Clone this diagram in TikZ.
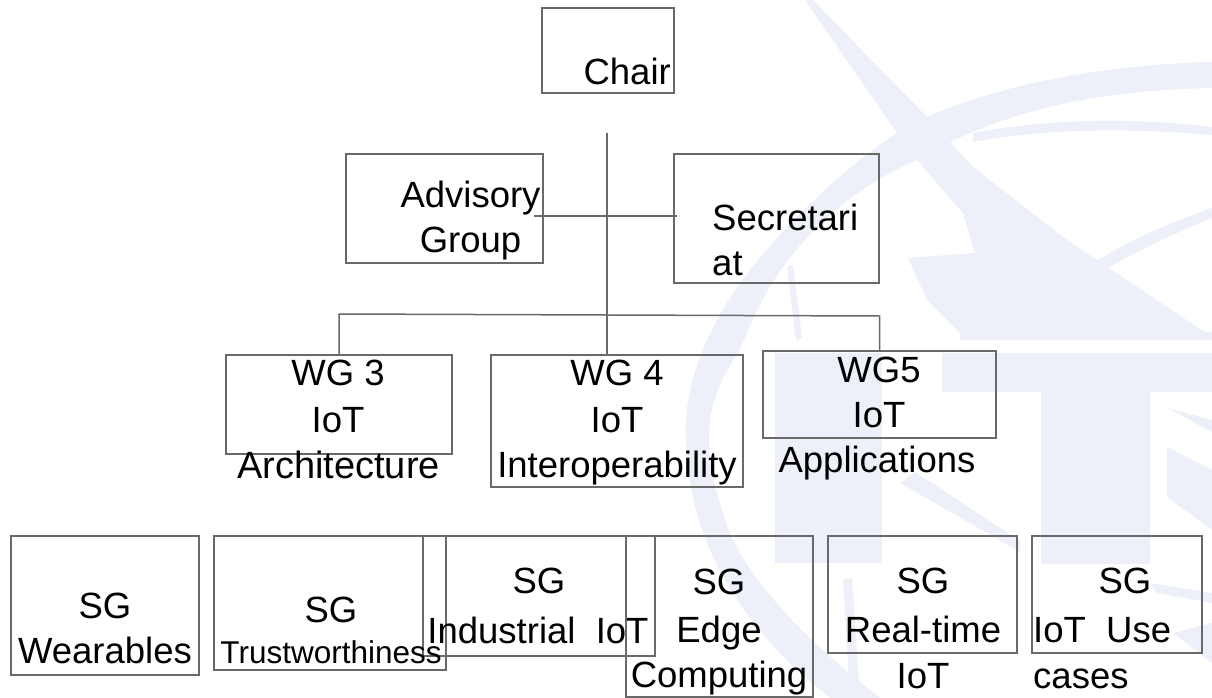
\documentclass[tikz,border=0pt]{standalone}
\usepackage{fontspec}
\setmainfont{Liberation Sans}
\definecolor{wmark}{HTML}{EDF0F8}
\definecolor{boxgray}{HTML}{696969}
\tikzset{
	boxnode/.style={draw=boxgray, line width=1.5pt, inner sep=0pt},
	lbl/.style={inner sep=0pt, text=black, font=\fontsize{36.5}{36.5}\selectfont},
	lblwide/.style={inner sep=0pt, text=black, font=\fontsize{38}{38}\selectfont},
	lblsmall/.style={inner sep=0pt, text=black, font=\fontsize{31.5}{31.5}\selectfont},
	conn/.style={draw=boxgray, line width=1.5pt}
}
\begin{document}
\begin{tikzpicture}[x=1pt,y=-1pt]
	\useasboundingbox (0,0) rectangle (1212,698);
	\fill [white] (0,0) rectangle (1212,698);
	\fill [wmark] (775,353) rectangle (882,563);
	\fill [wmark] (942,353) rectangle (1212,392);
	\fill [wmark] (1041,392) rectangle (1150,564);
	\fill [wmark] (805,0) -- (813,0) -- (927,117) -- (973,167) -- (1067,240) -- (1212,337) -- (967,340) -- (927,300) -- (908,258) -- (975,253) -- (963,213) -- (917,160) -- (897,133) -- cycle;
	\fill [wmark] (960,340) rectangle (1212,332);
	\fill [wmark] (1212,62) .. controls (1100,65) and (1000,85) .. (927,117) -- (897,133) .. controls (840,170) and (775,235) .. (740,283) .. controls (700,340) and (680,400) .. (687,450) .. controls (690,530) and (730,620) .. (830,698) -- (880,698) .. controls (780,620) and (735,560) .. (722,510) .. controls (700,440) and (705,400) .. (740,350) .. controls (755,310) and (770,285) .. (783,267) .. controls (820,215) and (870,180) .. (917,160) .. controls (1000,110) and (1100,90) .. (1212,88) -- cycle;
	\fill [wmark] (973,133) .. controls (1050,118) and (1140,118) .. (1212,127) -- (1212,135) .. controls (1130,128) and (1050,128) .. (973,142) -- cycle;
	\fill [wmark] (1090,265) .. controls (1130,240) and (1170,222) .. (1212,208) -- (1212,218) .. controls (1170,235) and (1140,250) .. (1100,272) -- cycle;
	\fill [wmark] (787,267) -- (793,265) -- (802,338) -- (796,340) -- cycle;
	\fill [wmark] (1167,408) -- (1212,420) -- (1212,432) -- cycle;
	\fill [wmark] (1167,447) -- (1212,470) -- (1212,530) -- (1167,497) -- cycle;
	\fill [wmark] (900,483) -- (915,472) -- (1020,541) -- (1020,552) -- cycle;
	\fill [wmark] (1150,583) -- (1212,593) -- (1212,603) -- (1157,593) -- cycle;
	\fill [wmark] (1212,623) -- (1173,633) -- (1212,663) -- cycle;
	\fill [wmark] (843,580) -- (852,578) -- (860,698) -- (850,698) -- cycle;
	\node [boxnode, minimum width=132pt, minimum height=85pt] (chair) at (608,50.5) {};
	\node [boxnode, minimum width=197pt, minimum height=109pt] (advisory) at (444.5,208.5) {};
	\node [boxnode, minimum width=205pt, minimum height=129pt] (secretariat) at (776.5,218.5) {};
	\node [boxnode, minimum width=226pt, minimum height=99pt] (wgthree) at (339,404.5) {};
	\node [boxnode, minimum width=252pt, minimum height=132pt] (wgfour) at (617,421) {};
	\node [boxnode, minimum width=233pt, minimum height=87pt] (wgfive) at (879.5,394.5) {};
	\node [boxnode, minimum width=188pt, minimum height=139pt] (wearables) at (105,605.5) {};
	\node [boxnode, minimum width=232pt, minimum height=134pt] (trust) at (330,603) {};
	\node [boxnode, minimum width=232pt, minimum height=120pt] (industrial) at (539,596) {};
	\node [boxnode, minimum width=187pt, minimum height=161pt] (edge) at (719.5,616.5) {};
	\node [boxnode, minimum width=189pt, minimum height=117pt] (realtime) at (922.5,594.5) {};
	\node [boxnode, minimum width=170pt, minimum height=117pt] (usecases) at (1117,594.5) {};
	\coordinate (trunktop) at (607,133);
	\coordinate (trunkbottom) at (607,355);
	\coordinate (sideleft) at (534,216);
	\coordinate (sideright) at (677,216);
	\coordinate (treeleft) at (339,314);
	\coordinate (treeright) at (879.5,316);
	\draw [conn] (trunktop) -- (trunkbottom);
	\draw [conn] (sideleft) -- (sideright);
	\draw [conn] (wgthree.north) -- (treeleft) -- (treeright) -- (wgfive.north);
	\node [lbl, anchor=base east] (chairtext) at (671,85) {Chair};
	\node [lbl, anchor=base] (advisorytext) at (470.5,207) {Advisory};
	\node [lbl, anchor=base] (grouptext) at (470.5,252) {Group};
	\node [lbl, anchor=base west] (secretaritext) at (712,230) {Secretari};
	\node [lbl, anchor=base west] (attext) at (712,275) {at};
	\node [lbl, anchor=base] (wgthreetext) at (338,385) {WG 3};
	\node [lbl, anchor=base] (iotthree) at (338,432) {IoT};
	\node [lblwide, anchor=base] (architecture) at (338.5,478) {Architecture};
	\node [lbl, anchor=base] (wgfourtext) at (617,385) {WG 4};
	\node [lbl, anchor=base] (iotfour) at (617,432) {IoT};
	\node [lbl, anchor=base] (interoperability) at (617,477) {Interoperability};
	\node [lbl, anchor=base] (wgfivetext) at (879,382) {WG5};
	\node [lbl, anchor=base] (iotfive) at (879,427) {IoT};
	\node [lbl, anchor=base] (applications) at (877,472) {Applications};
	\node [lbl, anchor=base] (sgwearables) at (105,618) {SG};
	\node [lbl, anchor=base] (wearablestext) at (105,663) {Wearables};
	\node [lbl, anchor=base] (sgtrust) at (331,622) {SG};
	\node [lblsmall, anchor=base] (trusttext) at (331,663) {Trustworthiness};
	\node [lbl, anchor=base] (sgindustrial) at (539,593) {SG};
	\node [lbl, anchor=base] (industrialtext) at (538,643) {Industrial~~IoT};
	\node [lbl, anchor=base] (sgedge) at (719,594) {SG};
	\node [lbl, anchor=base] (edgetext) at (719,642) {Edge};
	\node [lbl, anchor=base] (computing) at (719,687) {Computing};
	\node [lbl, anchor=base] (sgrealtime) at (923,593) {SG};
	\node [lbl, anchor=base] (realtimetext) at (923,642) {Real-time};
	\node [lbl, anchor=base] (iotrealtime) at (923,688) {IoT};
	\node [lbl, anchor=base] (sgusecases) at (1125,593) {SG};
	\node [lbl, anchor=base west] (iotuse) at (1033,642) {IoT~~Use};
	\node [lbl, anchor=base west] (cases) at (1033,688) {cases};
\end{tikzpicture}
\end{document}
